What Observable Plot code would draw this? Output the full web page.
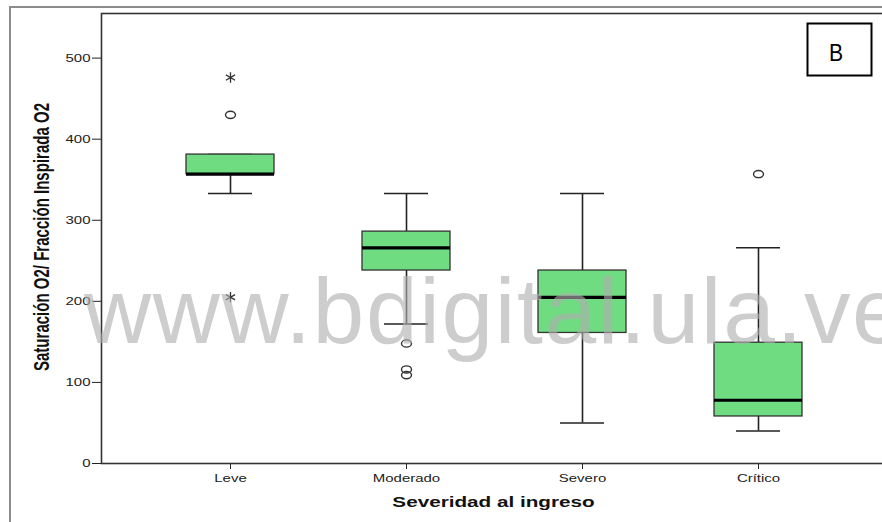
<!DOCTYPE html>
<html><head><meta charset="utf-8">
<script src="https://cdn.jsdelivr.net/npm/d3@7"></script>
<script src="https://cdn.jsdelivr.net/npm/@observablehq/plot@0.6"></script>
<style>
html,body{margin:0;padding:0;background:#fff;overflow:hidden;}
#wrap{position:relative;width:882px;height:522px;overflow:hidden;background:#fff;}
#chart{position:absolute;left:0;top:0;}
#outer{position:absolute;left:9px;top:6px;width:900px;height:600px;border-left:2px solid #8c8c8c;border-top:2px solid #8c8c8c;pointer-events:none;}
</style></head><body>
<div id="wrap"><div id="chart"></div><div id="outer"></div></div>
<script>
const categories = ["Leve", "Moderado", "Severo", "Crítico"];
const whiskerLow = [333, 172, 50, 40];
const q1 = [357, 238, 161, 58];
const median = [357, 266, 205, 78];
const q3 = [381, 286, 238, 149];
const whiskerHigh = [381, 333, 333, 266];
const outlierCategory = ["Leve", "Moderado", "Moderado", "Moderado", "Crítico"];
const outlierValue = [430, 148, 116, 109, 357];
const extremeCategory = ["Leve", "Leve"];
const extremeValue = [476, 205];
const yTicks = [0, 100, 200, 300, 400, 500];
const yTitle = "Saturación O2/ Fracción Inspirada O2";
const xTitle = "Severidad al ingreso";
const panelLabel = "B";
const watermark = "www.bdigital.ula.ve";

const boxes = categories.map((c, i) => ({cat: c, lo: whiskerLow[i], q1: q1[i], med: median[i], q3: q3[i], hi: whiskerHigh[i]}));
const outliers = outlierCategory.map((c, i) => ({cat: c, v: outlierValue[i]}));
const extremes = extremeCategory.map((c, i) => ({cat: c, v: extremeValue[i]}));

const ellipse = {
  draw(ctx) {
    const rx = 5, ry = 3.6, k = 0.5523;
    ctx.moveTo(rx, 0);
    ctx.bezierCurveTo(rx, ry * k, rx * k, ry, 0, ry);
    ctx.bezierCurveTo(-rx * k, ry, -rx, ry * k, -rx, 0);
    ctx.bezierCurveTo(-rx, -ry * k, -rx * k, -ry, 0, -ry);
    ctx.bezierCurveTo(rx * k, -ry, rx, -ry * k, rx, 0);
    ctx.closePath();
  }
};

const ink = "#222";
const plot = Plot.plot({
  width: 886, height: 522,
  marginLeft: 101, marginRight: 0, marginTop: 13, marginBottom: 59,
  style: {fontFamily: "'Liberation Sans', Arial, sans-serif", fontSize: "11px", color: "#222", background: "transparent", maxWidth: "none", overflow: "hidden"},
  x: {type: "band", domain: categories, range: [101, 886], paddingInner: 0.5, paddingOuter: 0.4745, tickSize: 6, tickPadding: 5, label: null},
  y: {domain: [0, 555], ticks: yTicks, tickSize: 9, tickPadding: 2, label: null},
  marks: [
    Plot.ruleX(boxes, {x: "cat", y1: "q3", y2: "hi", stroke: ink, strokeWidth: 1.6}),
    Plot.ruleX(boxes, {x: "cat", y1: "lo", y2: "q1", stroke: ink, strokeWidth: 1.6}),
    Plot.tickY(boxes, {x: "cat", y: "hi", insetLeft: 22, insetRight: 22, stroke: ink, strokeWidth: 1.6}),
    Plot.tickY(boxes, {x: "cat", y: "lo", insetLeft: 22, insetRight: 22, stroke: ink, strokeWidth: 1.6}),
    Plot.barY(boxes, {x: "cat", y1: "q1", y2: "q3", fill: "#70dc82", stroke: "#333", strokeWidth: 1.3}),
    Plot.tickY(boxes, {x: "cat", y: "med", stroke: "#000", strokeWidth: 3.2}),
    Plot.dot(outliers, {x: "cat", y: "v", symbol: ellipse, r: 4, stroke: "#333", fill: "none", strokeWidth: 1.4}),
    Plot.dot(extremes, {x: "cat", y: "v", symbol: "asterisk", r: 5, stroke: "#333", strokeWidth: 1.3}),
    Plot.frame({stroke: "#333", strokeWidth: 1.6})
  ]
});
document.getElementById("chart").appendChild(plot);

const svg = d3.select(plot);
// horizontal stretch of tick labels as in the reference
svg.selectAll("text").each(function() {
  const w = this.getComputedTextLength();
  if (w > 0) {
    this.setAttribute("textLength", (w * 1.36).toFixed(2));
    this.setAttribute("lengthAdjust", "spacingAndGlyphs");
  }
});

svg.append("text")
  .attr("transform", "translate(49,237) rotate(-90) scale(0.94,1.36)")
  .attr("text-anchor", "middle")
  .attr("font-family", "'Liberation Sans', Arial, sans-serif")
  .attr("font-weight", "bold").attr("font-size", 16).attr("fill", "#111")
  .text(yTitle);

svg.append("text")
  .attr("transform", "translate(493.5,507) scale(1.38,1)")
  .attr("text-anchor", "middle")
  .attr("font-family", "'Liberation Sans', Arial, sans-serif")
  .attr("font-weight", "bold").attr("font-size", 15).attr("fill", "#111")
  .text(xTitle);

svg.append("text")
  .attr("x", 84).attr("y", 343)
  .attr("text-anchor", "start")
  .attr("letter-spacing", 1.6)
  .attr("font-family", "'Liberation Sans', Arial, sans-serif")
  .attr("font-size", 93).attr("fill", "#aeaeae").attr("fill-opacity", 0.62)
  .text(watermark);

svg.append("rect")
  .attr("x", 807.5).attr("y", 23.5).attr("width", 64).attr("height", 52)
  .attr("fill", "#fff").attr("stroke", "#000").attr("stroke-width", 2);
svg.append("text")
  .attr("transform", "translate(836,61) scale(0.88,1)")
  .attr("text-anchor", "middle")
  .attr("font-family", "'Liberation Sans', Arial, sans-serif")
  .attr("font-size", 24).attr("fill", "#000")
  .text(panelLabel);
</script>
</body></html>
